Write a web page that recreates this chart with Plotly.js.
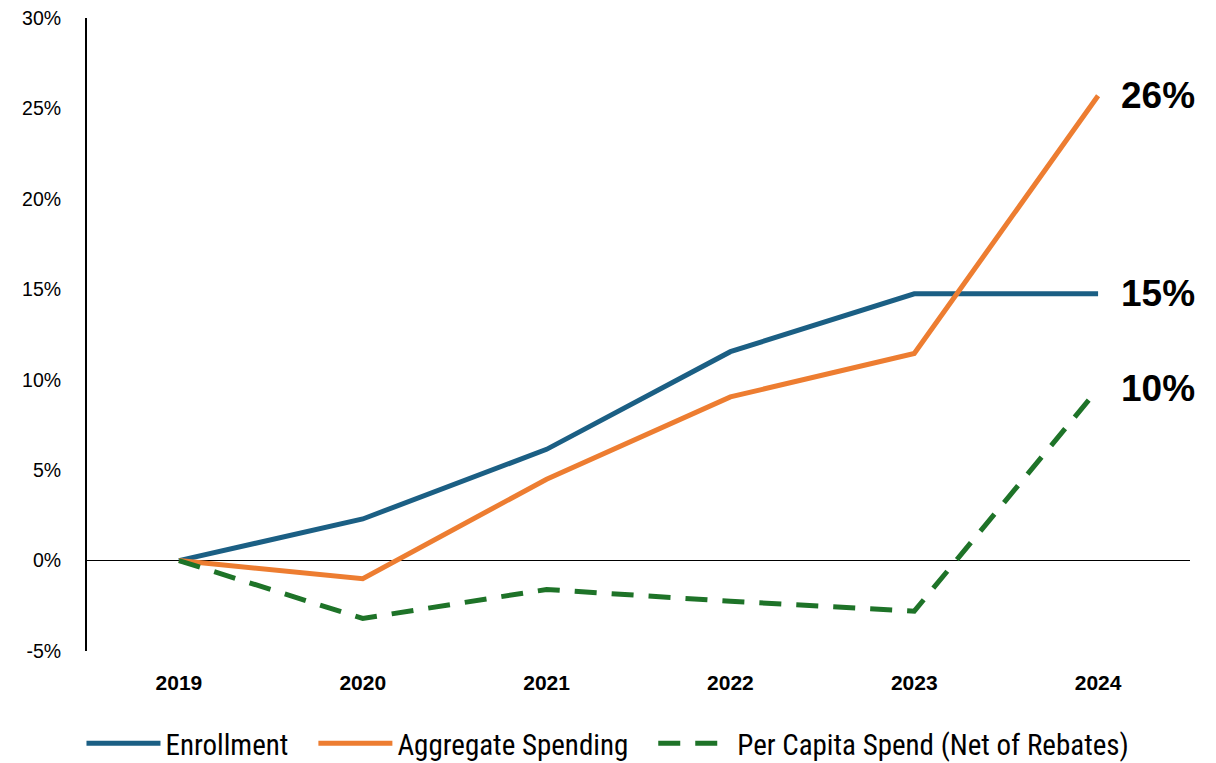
<!DOCTYPE html>
<html>
<head>
<meta charset="utf-8">
<script src="https://cdn.plot.ly/plotly-3.0.1.min.js"></script>
<style>html,body{margin:0;padding:0;background:#fff;}#chart{width:1216px;height:763px;}</style>
</head>
<body>
<div id="chart"></div>
<script>
const years = ['2019', '2020', '2021', '2022', '2023', '2024'];
const enrollment = [0, 2.3, 6.15, 11.55, 14.75, 14.75];
const aggregateSpending = [0, -1.0, 4.5, 9.05, 11.45, 25.7];
const perCapitaSpend = [0, -3.2, -1.6, -2.25, -2.8, 9.5];
const seriesNames = ['Enrollment', 'Aggregate Spending', 'Per Capita Spend (Net of Rebates)'];
const endLabels = ['15%', '26%', '10%'];
const yTickVals = [-5, 0, 5, 10, 15, 20, 25, 30];
const yTickText = ['-5%', '0%', '5%', '10%', '15%', '20%', '25%', '30%'];

const colors = ['#1b5f84', '#ed7d31', '#1e7328'];
const series = [enrollment, aggregateSpending, perCapitaSpend];
const pad = '\u00a0\u00a0\u00a0';

const traces = series.map((vals, i) => ({
  type: 'scatter', mode: 'lines', x: years, y: vals,
  name: seriesNames[i] + (i < 2 ? pad : ''),
  line: {color: colors[i], width: 5, dash: i === 2 ? '22px,15px' : 'solid'},
  hoverinfo: 'skip'
}));

const annotations = series.map((vals, i) => ({
  xref: 'x', yref: 'y', x: years.length - 1, y: vals[vals.length - 1],
  text: endLabels[i], showarrow: false, xanchor: 'left', yanchor: 'middle', xshift: 21,
  font: {family: 'Liberation Sans, Arial, sans-serif', size: 37, color: '#000', weight: 'bold'}
}));

const layout = {
  width: 1216, height: 763,
  margin: {l: 87, r: 26, t: 18, b: 112, autoexpand: false},
  paper_bgcolor: '#fff', plot_bgcolor: '#fff',
  showlegend: true,
  legend: {orientation: 'h', x: -0.005, xanchor: 'left', y: -0.146, yanchor: 'middle',
    font: {family: 'Liberation Sans Narrow, Roboto Condensed, Arial Narrow, sans-serif', size: 29, color: '#000'},
    itemwidth: 74, traceorder: 'normal'},
  xaxis: {type: 'category', range: [-0.5, 5.5], showgrid: false, zeroline: false, showline: false,
    ticks: 'outside', ticklen: 13, tickcolor: 'rgba(0,0,0,0)',
    tickfont: {family: 'Liberation Sans, Arial, sans-serif', size: 21, color: '#000', weight: 'bold'}},
  yaxis: {range: [-5, 30], tickvals: yTickVals, ticktext: yTickText, showgrid: false,
    zeroline: true, zerolinecolor: '#000', zerolinewidth: 1.5,
    showline: true, linecolor: '#000', linewidth: 2,
    ticks: 'outside', ticklen: 20, tickcolor: 'rgba(0,0,0,0)',
    tickfont: {family: 'Liberation Sans, Arial, sans-serif', size: 19.5, color: '#000'}},
  annotations: annotations
};

Plotly.newPlot('chart', traces, layout, {staticPlot: true, displayModeBar: false});
</script>
</body>
</html>
